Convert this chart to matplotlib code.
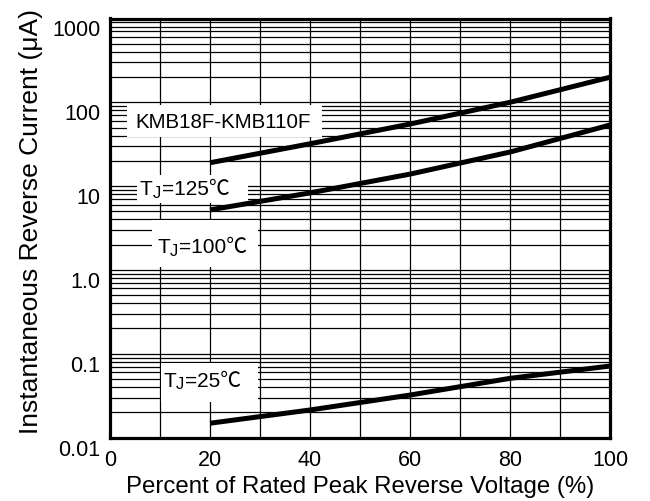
import matplotlib
matplotlib.use('Agg')
import matplotlib.pyplot as plt
import matplotlib.transforms as mtransforms
from matplotlib.patches import Rectangle
from matplotlib.ticker import MultipleLocator, LogLocator, NullFormatter

plt.rcParams['font.family'] = ['Liberation Sans', 'Noto Sans CJK SC', 'DejaVu Sans']

# values
voltage_pct = [20, 40, 60, 80, 100]
current_tj125 = [19.0, 32.0, 55.0, 100.0, 199.0]
current_tj100 = [5.2, 8.3, 13.9, 25.5, 53.6]
current_tj25 = [0.0148, 0.0213, 0.0321, 0.0508, 0.0713]

x_ticks = [0, 20, 40, 60, 80, 100]
x_tick_labels = ['0', '20', '40', '60', '80', '100']
y_ticks = [0.01, 0.1, 1, 10, 100, 1000]
y_tick_labels = ['0.01', '0.1', '1.0', '10', '100', '1000']

part_label = 'KMB18F-KMB110F'
temp_labels = ['=125℃', '=100℃', '=25℃']

# white patches behind the labels (x0, x1, y0, y1 in data units)
part_box = (3.4, 42.4, 38.5, 93.0)
temp_boxes = [(5.4, 27.6, 6.3, 13.6),
              (8.4, 29.6, 1.08, 3.94),
              (10.2, 29.6, 0.0265, 0.0774)]
part_pos = (5.0, 50.0)
temp_pos = [(6.0, 7.8), (9.4, 1.58), (10.6, 0.0404)]

fig = plt.figure(figsize=(6.5, 5.01), dpi=100)
ax = fig.add_axes([110 / 650, 1 - 437.5 / 501, 500 / 650, 419 / 501])

ax.set_yscale('log')
ax.set_xlim(0, 100)
ax.set_ylim(0.01, 1000)

ax.set_xticks(x_ticks, x_tick_labels)
ax.xaxis.set_minor_locator(MultipleLocator(10))
ax.set_yticks(y_ticks, y_tick_labels)
ax.yaxis.set_minor_locator(LogLocator(base=10, subs=range(2, 10)))
ax.yaxis.set_minor_formatter(NullFormatter())

ax.grid(True, which='both', color='black', lw=0.9)
ax.tick_params(which='both', length=0)
ax.tick_params(axis='y', pad=7, labelsize=15.5)
ax.tick_params(axis='x', pad=9, labelsize=15.5)
for s in ax.spines.values():
    s.set_linewidth(2.3)

# y tick labels sit a little below their grid lines in the original
shift = mtransforms.ScaledTranslation(0, -0.1, fig.dpi_scale_trans)
for lab in ax.get_yticklabels():
    lab.set_transform(lab.get_transform() + shift)

ax.set_xlabel('Percent of Rated Peak Reverse Voltage (%)', fontsize=17.3)
ax.set_ylabel('Instantaneous Reverse Current (μA)', fontsize=19)
ax.xaxis.set_label_coords(0.501, -0.093)
ax.yaxis.set_label_coords(-0.133, 0.515)

for cur in (current_tj125, current_tj100, current_tj25):
    ax.plot(voltage_pct, cur, color='black', lw=3.6, solid_capstyle='butt', zorder=3)

for x0, x1, y0, y1 in [part_box] + temp_boxes:
    ax.add_patch(Rectangle((x0, y0), x1 - x0, y1 - y0, facecolor='white',
                           edgecolor='none', zorder=2.5))

ax.text(part_pos[0], part_pos[1], part_label, fontsize=14.8, va='baseline',
        ha='left', zorder=5)

for (x, y), rest in zip(temp_pos, temp_labels):
    t = ax.text(x, y, 'T', fontsize=15, va='baseline', ha='left', zorder=5)
    j = ax.annotate('J', xy=(1, y), xycoords=(t, 'data'), xytext=(0.3, -1.8),
                    textcoords='offset points', fontsize=12, va='baseline',
                    ha='left', zorder=5)
    ax.annotate(rest, xy=(1, y), xycoords=(j, 'data'), xytext=(0.6, 0),
                textcoords='offset points', fontsize=15, va='baseline',
                ha='left', zorder=5)

fig.savefig('out.png', dpi=100)
